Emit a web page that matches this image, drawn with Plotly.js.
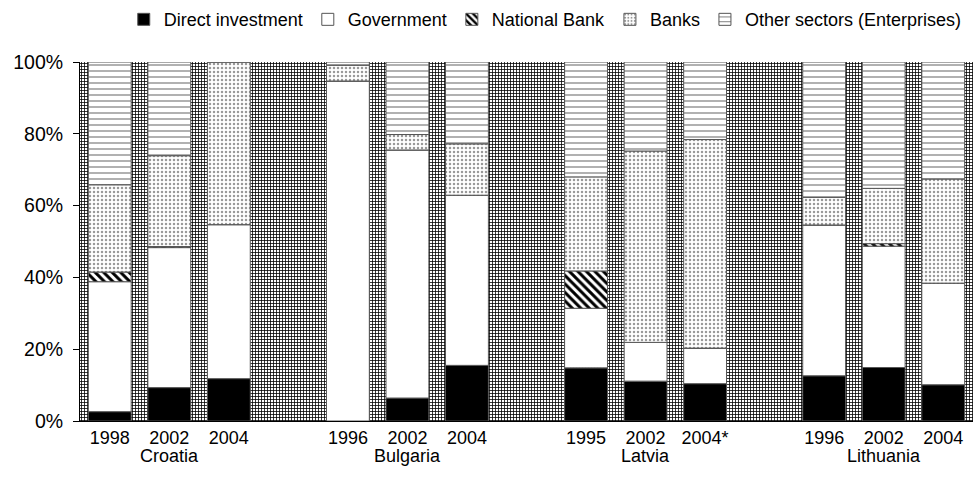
<!DOCTYPE html>
<html>
<head>
<meta charset="utf-8">
<script src="https://cdn.plot.ly/plotly-3.0.1.min.js"></script>
<style>
  html, body { margin: 0; padding: 0; background: #fff; }
  #chart { width: 974px; height: 488px; }
</style>
</head>
<body>
<div id="chart"></div>
<script>
// Structure of external liabilities by sector, shares of total (%)
const countries = ['Croatia', 'Bulgaria', 'Latvia', 'Lithuania'];
const barCountry = ['Croatia', 'Croatia', 'Croatia',
                    'Bulgaria', 'Bulgaria', 'Bulgaria',
                    'Latvia', 'Latvia', 'Latvia',
                    'Lithuania', 'Lithuania', 'Lithuania'];
const barYear = ['1998', '2002', '2004',
                 '1996', '2002', '2004',
                 '1995', '2002', '2004*',
                 '1996', '2002', '2004'];

const directInvestment = [2.6, 9.3, 11.8, 0.0, 6.4, 15.5, 14.8, 11.1, 10.4, 12.6, 14.9, 10.1];
const government       = [36.2, 39.0, 42.9, 94.7, 69.1, 47.4, 16.6, 10.8, 9.9, 42.0, 33.8, 28.3];
const nationalBank     = [2.7, 0.3, 0.0, 0.0, 0.0, 0.0, 10.4, 0.0, 0.0, 0.0, 0.7, 0.0];
const banks            = [24.3, 25.3, 45.3, 4.4, 4.3, 14.3, 26.2, 53.3, 58.1, 7.7, 15.4, 29.0];
const otherSectors     = [34.2, 26.1, 0.0, 0.9, 20.2, 22.8, 32.0, 24.8, 21.6, 37.7, 35.2, 32.6];

const seriesNames = ['Direct investment', 'Government', 'National Bank', 'Banks',
                     'Other sectors (Enterprises)'];
const seriesValues = [directInvestment, government, nationalBank, banks, otherSectors];

// one empty slot between country groups
const slotsPerGroup = 4;
const xPos = barCountry.map((c, i) => {
  const g = countries.indexOf(c);
  const within = barCountry.slice(0, i).filter(v => v === c).length;
  return g * slotsPerGroup + within;
});
const nSlots = countries.length * slotsPerGroup - 1;
const allSlots = Array.from({length: nSlots}, (_, i) => i);

const styles = [
  {color: '#000000', pattern: {shape: ''}},
  {color: '#ffffff', pattern: {shape: ''}},
  {color: '#ffffff', pattern: {shape: '\\', fgcolor: '#000', bgcolor: '#fff', size: 6, solidity: 0.5, fillmode: 'replace'}},
  {color: '#ffffff', pattern: {shape: '.', fgcolor: '#999', bgcolor: '#fff', size: 4, solidity: 0.3, fillmode: 'replace'}},
  {color: '#ffffff', pattern: {shape: '-', fgcolor: '#666', bgcolor: '#fff', size: 6, solidity: 0.17, fillmode: 'replace'}}
];

const traces = [];

// cross-hatched plot background
traces.push({
  type: 'bar', x: allSlots, y: allSlots.map(() => 100), width: 1,
  showlegend: false, hoverinfo: 'skip',
  marker: {color: '#fff', line: {width: 0},
           pattern: {shape: '+', fgcolor: '#000', bgcolor: '#fff', size: 3, solidity: 0.45, fillmode: 'replace'}}
});

// stacked sector shares, bases accumulated from the series below
const cumulative = barCountry.map(() => 0);
seriesValues.forEach((vals, s) => {
  traces.push({
    type: 'bar', name: seriesNames[s], x: xPos, y: vals,
    base: cumulative.slice(), width: 0.72,
    marker: {color: styles[s].color, pattern: styles[s].pattern,
             line: {color: '#555', width: 1}},
    hovertemplate: '%{y:.1f}%<extra>' + seriesNames[s] + '</extra>'
  });
  vals.forEach((v, i) => { cumulative[i] += v; });
});

const countryLabels = countries.map((c, g) => ({
  text: c, xref: 'x', yref: 'paper',
  x: g * slotsPerGroup + 1, y: -0.0975, yanchor: 'middle', xanchor: 'center',
  showarrow: false, font: {size: 18, color: '#000'}
}));

const layout = {
  width: 974, height: 488,
  margin: {l: 80, r: 1, t: 59, b: 67},
  paper_bgcolor: '#fff', plot_bgcolor: '#fff',
  font: {family: 'Liberation Sans, Arial, sans-serif', color: '#000'},
  barmode: 'overlay',
  bargap: 0,
  showlegend: true,
  legend: {orientation: 'h', x: 0.521, xanchor: 'center', y: 1.118, yanchor: 'middle',
           font: {size: 18, color: '#000'}, itemwidth: 30, traceorder: 'normal',
           bgcolor: 'rgba(0,0,0,0)'},
  xaxis: {range: [-0.5, nSlots - 0.5], tickmode: 'array', tickvals: xPos, ticktext: barYear,
          ticks: '', showgrid: false, zeroline: false, showline: true,
          linecolor: '#000', linewidth: 1, tickfont: {size: 18}, fixedrange: true},
  yaxis: {range: [0, 100], tickmode: 'linear', tick0: 0, dtick: 20, ticksuffix: '%',
          ticks: 'outside', ticklen: 6, tickcolor: '#000', showgrid: false, zeroline: false,
          showline: true, linecolor: '#000', linewidth: 1, tickfont: {size: 19.5},
          ticklabelstandoff: 6, fixedrange: true},
  annotations: countryLabels
};

Plotly.newPlot('chart', traces, layout, {displayModeBar: false, staticPlot: true});
</script>
</body>
</html>
